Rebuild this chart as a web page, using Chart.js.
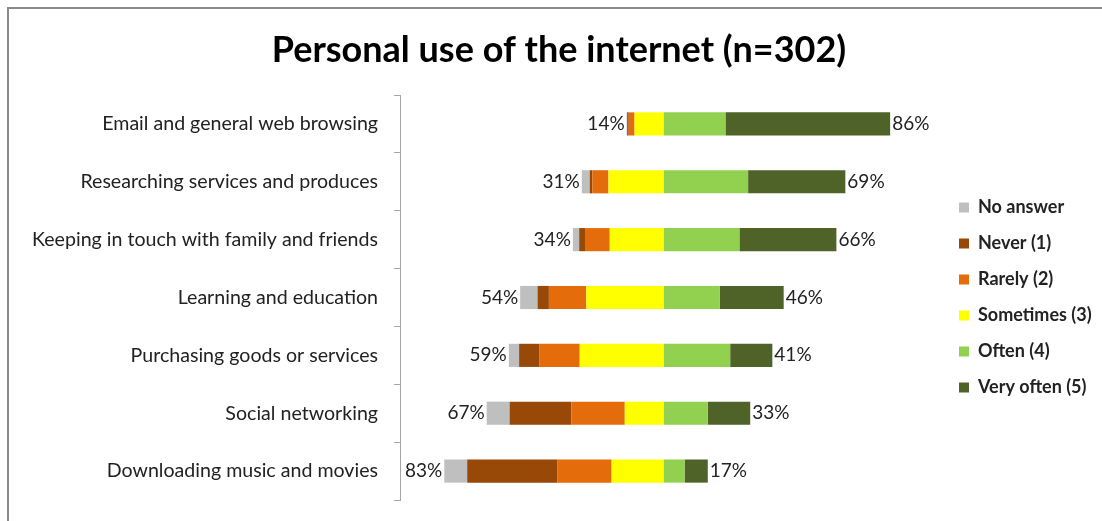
<!DOCTYPE html>
<html>
<head>
<meta charset="utf-8">
<script src="https://cdn.jsdelivr.net/npm/chart.js@4.4.0/dist/chart.umd.min.js"></script>
<style>
  body { margin: 0; background: #fff; }
  #wrap { position: relative; width: 1102px; height: 521px; }
  #frame { position: absolute; left: 7px; top: 7px; right: 0; bottom: 0;
           border-top: 2px solid #8a8a8a; border-left: 2px solid #8a8a8a; pointer-events: none; }
</style>
</head>
<body>
<div id="wrap">
  <canvas id="chart" width="1102" height="521"></canvas>
  <div id="frame"></div>
</div>
<script>
const categories = [
  'Email and general web browsing',
  'Researching services and produces',
  'Keeping in touch with family and friends',
  'Learning and education',
  'Purchasing goods or services',
  'Social networking',
  'Downloading music and movies'
];

// percentages per answer
const noAnswer  = [0.2, 3.0, 2.4, 6.6, 3.9, 8.7, 8.7];
const never     = [0.6, 1.0, 2.2, 4.3, 7.6, 23.4, 34.3];
const rarely    = [2.2, 6.1, 9.4, 14.2, 15.4, 20.3, 20.5];
const sometimes = [11.0, 20.9, 20.4, 29.3, 31.8, 14.7, 19.7];
const often     = [23.5, 32.1, 28.8, 21.3, 25.3, 16.8, 8.0];
const veryOften = [62.5, 36.9, 36.8, 24.3, 16.0, 16.1, 8.8];

const leftLabels  = ['14%', '31%', '34%', '54%', '59%', '67%', '83%'];
const rightLabels = ['86%', '69%', '66%', '46%', '41%', '33%', '17%'];

const FONT = 'Lato';
const neg = arr => arr.map(v => -v);

// left/right totals written at the ends of each bar
const endLabels = {
  id: 'endLabels',
  afterDatasetsDraw(chart) {
    const { ctx, scales: { x, y } } = chart;
    ctx.save();
    ctx.font = '19px ' + FONT;
    ctx.fillStyle = '#222';
    ctx.textBaseline = 'middle';
    categories.forEach((c, i) => {
      const left = noAnswer[i] + never[i] + rarely[i] + sometimes[i];
      const right = often[i] + veryOften[i];
      const yc = y.getPixelForValue(i);
      ctx.textAlign = 'right';
      ctx.fillText(leftLabels[i], x.getPixelForValue(-left) - 2, yc);
      ctx.textAlign = 'left';
      ctx.fillText(rightLabels[i], x.getPixelForValue(right) + 2, yc);
    });
    ctx.restore();
  }
};

new Chart(document.getElementById('chart'), {
  type: 'bar',
  data: {
    labels: categories,
    datasets: [
      { label: 'No answer', data: neg(noAnswer), backgroundColor: '#bfbfbf', order: 4 },
      { label: 'Never (1)', data: neg(never), backgroundColor: '#984807', order: 3 },
      { label: 'Rarely (2)', data: neg(rarely), backgroundColor: '#e46c0a', order: 2 },
      { label: 'Sometimes (3)', data: neg(sometimes), backgroundColor: '#ffff00', order: 1 },
      { label: 'Often (4)', data: often, backgroundColor: '#92d050', order: 5 },
      { label: 'Very often (5)', data: veryOften, backgroundColor: '#4f6228', order: 6 }
    ]
  },
  options: {
    indexAxis: 'y',
    responsive: false,
    animation: false,
    datasets: { bar: { categoryPercentage: 1, barPercentage: 0.4 } },
    layout: { padding: { top: 10, left: 18, right: 2, bottom: 21 } },
    scales: {
      x: { stacked: true, display: false, min: -100, max: 105.3 },
      y: {
        stacked: true,
        grid: { offset: true, drawOnChartArea: false, drawTicks: true, tickLength: 6, color: '#a6a6a6' },
        border: { color: '#a6a6a6', width: 1 },
        ticks: { padding: 16, color: '#222', font: { family: FONT, size: 19.6 } },
        afterFit: s => { s.width = 382; s.paddingTop = 0; s.paddingBottom = 0; }
      }
    },
    plugins: {
      title: {
        display: true,
        text: 'Personal use of the internet (n=302)',
        color: '#000',
        font: { family: FONT, size: 36, weight: 'bold' },
        padding: { top: 19, bottom: 22.8 }
      },
      legend: {
        position: 'right',
        align: 'center',
        fullSize: false,
        maxWidth: 159,
        labels: {
          boxWidth: 10,
          boxHeight: 10,
          padding: 18,
          color: '#222',
          font: { family: FONT, size: 18, weight: 'bold' },
          sort: (a, b) => a.datasetIndex - b.datasetIndex
        }
      },
      tooltip: { enabled: false }
    }
  },
  plugins: [endLabels]
});
</script>
</body>
</html>
